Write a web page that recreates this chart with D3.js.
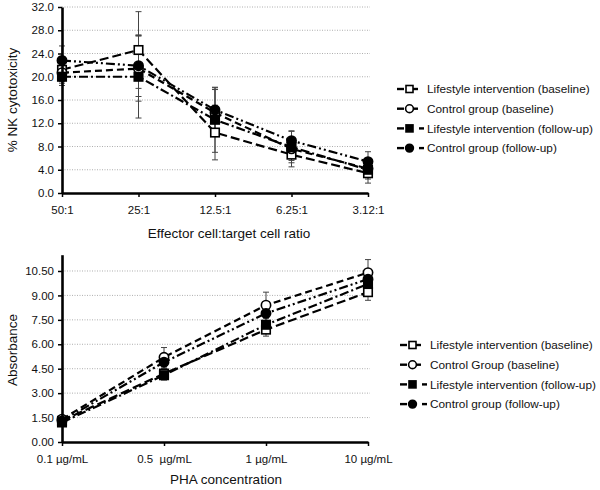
<!DOCTYPE html>
<html>
  <head>
    <title>NK cytotoxicity and PHA response</title>
    <style>
      body { margin: 0; background: #fff; }
      text { font-family: 'Liberation Sans', Arial, sans-serif; fill: #111; }
    </style>
  </head>
  <body>
    <script src="https://cdnjs.cloudflare.com/ajax/libs/d3/7.8.5/d3.min.js"></script>
    <script>
      // top panel: NK cytotoxicity
      let ratioLabels = ['50:1', '25:1', '12.5:1', '6.25:1', '3.12:1'];
      let nkTicks = [0, 4, 8, 12, 16, 20, 24, 28, 32];
      let liBaseNK = [21.2, 24.6, 10.4, 6.6, 3.4],
          cgBaseNK = [20.7, 21.4, 13.8, 7.6, 4.2],
          liFollowNK = [20.0, 20.0, 12.6, 7.9, 4.0],
          cgFollowNK = [22.8, 21.9, 14.3, 9.0, 5.4];
      let liBaseNKErr = [2.0, 6.6, 4.7, 2.1, 1.7],
          cgBaseNKErr = [1.8, 5.6, 4.0, 2.0, 1.5],
          liFollowNKErr = [1.5, 7.1, 5.6, 2.7, 1.6],
          cgFollowNKErr = [2.5, 5.3, 3.8, 1.7, 1.7];

      // bottom panel: PHA absorbance
      let phaLabels = ['0.1 µg/mL', '0.5  µg/mL', '1 µg/mL', '10 µg/mL'];
      let absTicks = [0, 1.5, 3, 4.5, 6, 7.5, 9, 10.5];
      let liBaseAbs = [1.3, 4.2, 6.9, 9.2],
          cgBaseAbs = [1.4, 5.2, 8.4, 10.4],
          liFollowAbs = [1.2, 4.1, 7.2, 9.7],
          cgFollowAbs = [1.3, 4.9, 7.9, 10.0];
      let liBaseAbsErr = [0.2, 0.3, 0.4, 0.5],
          cgBaseAbsErr = [0.2, 0.6, 0.8, 0.8],
          liFollowAbsErr = [0.2, 0.3, 0.5, 0.6],
          cgFollowAbsErr = [0.2, 0.4, 0.6, 0.6];

      let topLegend = ['Lifestyle intervention (baseline)', 'Control group (baseline)',
                       'Lifestyle intervention (follow-up)', 'Control group (follow-up)'];
      let bottomLegend = ['Lifestyle intervention (baseline)', 'Control Group (baseline)',
                          'Lifestyle intervention (follow-up)', 'Control group (follow-up)'];

      // marker + dash per series, same order everywhere
      let styles = [
        { shape: 'square', filled: false, dash: '9,4' },
        { shape: 'circle', filled: false, dash: '7,4' },
        { shape: 'square', filled: true, dash: '9,3,2,3' },
        { shape: 'circle', filled: true, dash: '9,3,2,3,2,3' }
      ];

      let svg = d3.select('body')
                  .append('svg')
                  .attr('width', 600)
                  .attr('height', 490);

      function drawMarker(g, st, x, y, size) {
        if (st.shape === 'square') {
          g.append('rect')
           .attr('x', x - size / 2).attr('y', y - size / 2)
           .attr('width', size).attr('height', size)
           .attr('fill', st.filled ? '#000' : '#fff')
           .attr('stroke', '#000').attr('stroke-width', 1.6);
        } else {
          g.append('circle')
           .attr('cx', x).attr('cy', y).attr('r', size / 2 + 0.4)
           .attr('fill', st.filled ? '#000' : '#fff')
           .attr('stroke', '#000').attr('stroke-width', 1.6);
        }
      }

      function panel(opts) {
        let g = svg.append('g');
        let x = d3.scalePoint().domain(opts.cats).range([62, 368]).padding(0);
        let y = d3.scaleLinear().domain(opts.domain).range(opts.range);

        // dotted grid
        g.selectAll('.grid')
         .data(opts.ticks.filter((d) => d > 0))
         .enter()
           .append('line')
           .attr('x1', 62).attr('x2', 370)
           .attr('y1', (d) => y(d)).attr('y2', (d) => y(d))
           .attr('stroke', '#999')
           .attr('stroke-width', 0.8)
           .attr('stroke-dasharray', '1,1.5');

        // series lines
        let line = d3.line()
                     .x((d, i) => x(opts.cats[i]))
                     .y((d) => y(d));
        opts.series.forEach((s, k) => {
          g.append('path')
           .attr('d', line(s))
           .attr('fill', 'none')
           .attr('stroke', '#000')
           .attr('stroke-width', 2.2)
           .attr('stroke-dasharray', styles[k].dash);
        });

        // error bars
        opts.series.forEach((s, k) => {
          s.forEach((v, i) => {
            let cx = x(opts.cats[i]),
                e = opts.errs[k][i];
            g.append('line')
             .attr('x1', cx).attr('x2', cx)
             .attr('y1', y(v + e)).attr('y2', y(v - e))
             .attr('stroke', '#444').attr('stroke-width', 1);
            [v + e, v - e].forEach((c) => {
              g.append('line')
               .attr('x1', cx - 3).attr('x2', cx + 3)
               .attr('y1', y(c)).attr('y2', y(c))
               .attr('stroke', '#444').attr('stroke-width', 1);
            });
          });
        });

        // markers
        opts.series.forEach((s, k) => {
          s.forEach((v, i) => drawMarker(g, styles[k], x(opts.cats[i]), y(v), 8.5));
        });

        // axes
        let yAxis = d3.axisLeft(y).tickValues(opts.ticks)
                      .tickFormat(opts.fmt).tickSize(4).tickSizeOuter(0);
        let ya = g.append('g').attr('transform', 'translate(62,0)').call(yAxis);
        let xAxis = d3.axisBottom(x).tickSize(4).tickSizeOuter(0);
        let xa = g.append('g').attr('transform', 'translate(0,' + opts.range[0] + ')').call(xAxis);
        [ya, xa].forEach((a) => {
          a.select('.domain').attr('stroke', '#000').attr('stroke-width', 2.6);
          a.selectAll('.tick line').attr('stroke', '#000').attr('stroke-width', 1.5);
          a.selectAll('text').attr('font-size', 11.5)
           .attr('font-family', "'Liberation Sans', Arial, sans-serif")
           .attr('fill', '#111');
        });
        xa.selectAll('text').attr('dy', '1.25em').style('white-space', 'pre');
        ya.selectAll('text').attr('x', -8);

        // axis titles
        g.append('text')
         .attr('transform', 'translate(17,' + opts.yTitleY + ') rotate(-90)')
         .attr('text-anchor', 'middle')
         .attr('font-size', 13.5)
         .text(opts.yTitle);
        g.append('text')
         .attr('x', opts.xTitleX).attr('y', opts.xTitleY)
         .attr('text-anchor', 'middle')
         .attr('font-size', 13.5)
         .text(opts.xTitle);

        // legend: dash, marker, short dash, label
        opts.legend.forEach((name, k) => {
          let ly = opts.legendY + k * 19.7,
              lx = opts.legendX,
              st = styles[k];
          g.append('line')
           .attr('x1', lx).attr('x2', lx + 7)
           .attr('y1', ly).attr('y2', ly)
           .attr('stroke', '#000').attr('stroke-width', 2.4);
          let r0 = st.filled ? lx + 22 : lx + 15,
              r1 = st.filled ? lx + 27 : lx + 21;
          g.append('line')
           .attr('x1', r0).attr('x2', r1)
           .attr('y1', ly).attr('y2', ly)
           .attr('stroke', '#000').attr('stroke-width', 2.4);
          drawMarker(g, st, lx + 12.5, ly, 7);
          g.append('text')
           .attr('x', lx + 30).attr('y', ly + 4.2)
           .attr('font-size', 11.8)
           .text(name);
        });
      }

      panel({
        cats: ratioLabels,
        domain: [0, 32], range: [193, 7],
        ticks: nkTicks, fmt: d3.format('.1f'),
        series: [liBaseNK, cgBaseNK, liFollowNK, cgFollowNK],
        errs: [liBaseNKErr, cgBaseNKErr, liFollowNKErr, cgFollowNKErr],
        yTitle: '% NK cytotoxicity', yTitleY: 100,
        xTitle: 'Effector cell:target cell ratio', xTitleX: 229, xTitleY: 238,
        legend: topLegend, legendX: 397, legendY: 89
      });

      panel({
        cats: phaLabels,
        domain: [0, 11.5], range: [442, 254.7],
        ticks: absTicks, fmt: d3.format('.2f'),
        series: [liBaseAbs, cgBaseAbs, liFollowAbs, cgFollowAbs],
        errs: [liBaseAbsErr, cgBaseAbsErr, liFollowAbsErr, cgFollowAbsErr],
        yTitle: 'Absorbance', yTitleY: 350,
        xTitle: 'PHA concentration', xTitleX: 226, xTitleY: 484,
        legend: bottomLegend, legendX: 400, legendY: 345
      });
    </script>
  </body>
</html>
